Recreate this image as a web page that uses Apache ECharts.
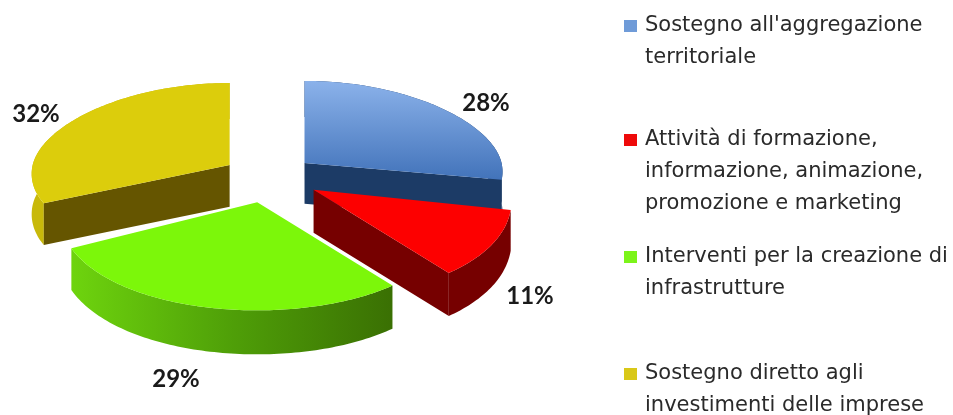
<!DOCTYPE html>
<html><head><meta charset="utf-8">
<style>html,body{margin:0;padding:0;background:#fff}#c{width:953px;height:415px}</style>
<script src="https://cdn.jsdelivr.net/npm/echarts@6/dist/echarts.min.js"></script>
</head><body><div id="c"></div>
<script>
const categories = [
  "Sostegno all'aggregazione\nterritoriale",
  "Attività di formazione,\ninformazione, animazione,\npromozione e marketing",
  "Interventi per la creazione di\ninfrastrutture",
  "Sostegno diretto agli\ninvestimenti delle imprese"
];
const values = [28, 11, 29, 32];
const legendColors = ['#6f9bd8', '#ee0a0a', '#7cf41a', '#d9c818'];

// look of each slice: top face, radial wall, outer wall
const G = echarts.graphic.LinearGradient;
const topFill = [
  new G(0, 0, 0, 1, [{offset: 0, color: '#8bb2ea'}, {offset: 1, color: '#4273ba'}]),
  '#fd0000', '#7cf70a', '#dccd0c'
];
const wallFill = ['#1c3b66', '#760000', '#5fb30a', '#655500'];
const rimFill = [
  '#1c3b66', '#760000',
  new G(0, 0, 1, 0, [{offset: 0, color: '#6ed40e'}, {offset: 0.5, color: '#4f9f08'}, {offset: 1, color: '#3a7003'}]),
  '#c8b90a'
];
const paintOrder = [0, 3, 1, 2];
const labelAt = [[486, 103], [530, 296], [176, 379], [36, 114]];
const legendTop = [26, 140, 257, 374];

// pie geometry (simple perspective projection)
const CX = 269, CY = 176, RX = 197, RY_BACK = 82, RY_FRONT_NEAR = 108, RY_FRONT_FAR = 90, EXPLODE = 0.25;
function project(t, r, ryFront) {
  const c = Math.cos(t), s = Math.sin(t);
  return [RX * r * s * (1 - 0.1 * c), -c * r * (c > 0 ? RY_BACK : ryFront)];
}
function depth(t) { return 40 - 4 * Math.cos(t); }

let total = values.reduce((a, b) => a + b, 0), acc = 0;
const spans = values.map(v => { const a = acc; acc += v; return [a / total * 2 * Math.PI, acc / total * 2 * Math.PI]; });

function renderSlice(i) {
  const [a0, a1] = spans[i];
  const mid = (a0 + a1) / 2;
  const ryF = Math.cos(mid) > 0 ? RY_FRONT_FAR : RY_FRONT_NEAR;
  const off = project(mid, EXPLODE, ryF);
  const ax = CX + off[0], ay = CY + off[1];
  const n = Math.max(2, Math.ceil((a1 - a0) / 0.02));
  const rimTop = [], rimBot = [];
  for (let k = 0; k <= n; k++) {
    const t = a0 + (a1 - a0) * k / n, p = project(t, 1, ryF);
    rimTop.push([ax + p[0], ay + p[1]]);
    rimBot.push([ax + p[0], ay + p[1] + depth(t)]);
  }
  const kids = [];
  kids.push({type: 'polygon', silent: true, shape: {points: rimTop.concat(rimBot.slice().reverse())}, style: {fill: rimFill[i]}});
  const radial = (t, rim, rimB) => kids.push({type: 'polygon', silent: true,
    shape: {points: [[ax, ay], rim, rimB, [ax, ay + depth(t)]]}, style: {fill: wallFill[i]}});
  if (Math.sin(a0) < -1e-6) radial(a0, rimTop[0], rimBot[0]);
  if (Math.sin(a1) > 1e-6) radial(a1, rimTop[n], rimBot[n]);
  kids.push({type: 'polygon', silent: true, shape: {points: [[ax, ay]].concat(rimTop)}, style: {fill: topFill[i]}});
  kids.push({type: 'text', silent: true, x: labelAt[i][0], y: labelAt[i][1],
    style: {text: values[i] + '%', fill: '#1a1a1a', font: 'bold 24px Lato', align: 'center', verticalAlign: 'middle'}});
  return {type: 'group', children: kids};
}

const LH = 32;
const series = paintOrder.map((i, o) => ({
  type: 'custom', name: categories[i], coordinateSystem: 'none', z: 2 + o,
  data: [[values[i]]], itemStyle: {color: legendColors[i]},
  renderItem: () => renderSlice(i), animation: false, silent: true
}));
// one legend per entry, because the gaps between entries differ; blank lines keep the marker on the first text line
const legends = categories.map((name, i) => {
  const lines = name.split('\n').length;
  return {
    left: 624, top: legendTop[i] - (lines - 1) * LH - LH / 2, orient: 'vertical', selectedMode: false,
    itemWidth: 13, itemHeight: 12, padding: 0, icon: 'rect',
    data: [{name, icon: 'rect', itemStyle: {color: legendColors[i]}}],
    formatter: nm => '\n'.repeat(lines - 1) + nm,
    textStyle: {fontFamily: 'DejaVu Sans', fontSize: 21, lineHeight: LH, color: '#2a2a2a', padding: [0, 0, 0, 3]}
  };
});
const chart = echarts.init(document.getElementById('c'), null, {renderer: 'canvas'});
chart.setOption({animation: false, backgroundColor: '#fff', legend: legends, series});
</script></body></html>
